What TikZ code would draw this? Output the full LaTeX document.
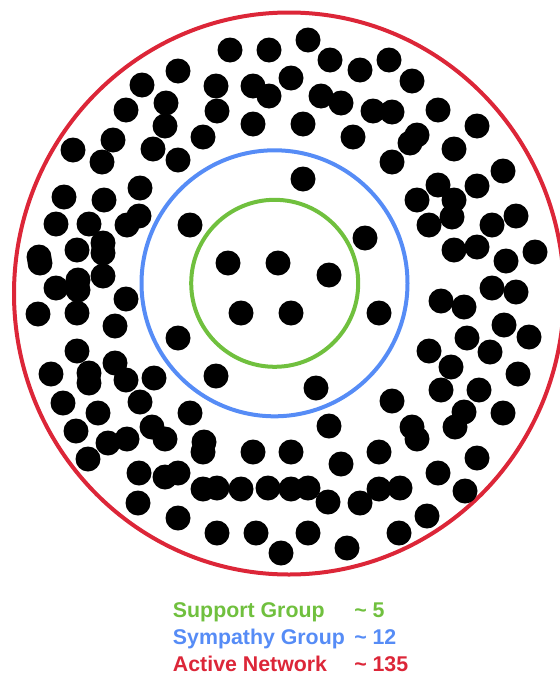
\documentclass[tikz,border=0pt]{standalone}
\usepackage{fontspec}
\setmainfont{Liberation Sans}
\usepackage{xcolor}
\usetikzlibrary{positioning}
\definecolor{SupportGreen}{RGB}{112,192,62}
\definecolor{SympathyBlue}{RGB}{86,140,246}
\definecolor{ActiveRed}{RGB}{220,38,56}

\begin{document}
\begin{tikzpicture}[x=0.75pt, y=-0.75pt,
	dot/.style={fill=black},
	ring/.style={line width=3pt},
	legend/.style={anchor=base west, inner sep=0pt, font=\fontsize{16}{19}\selectfont\bfseries}]
	\useasboundingbox (0,0) rectangle (560,675);
	\clip (0,0) rectangle (560,675);
	% layers
	\draw[ring, ActiveRed] (289,293.5) ellipse [x radius=275, y radius=281];
	\draw[ring, SympathyBlue] (274.5,283.3) circle (133);
	\draw[ring, SupportGreen] (274.7,283.3) circle (83.5);
	% support group
	\foreach \x/\y in {228/263, 278/263, 329/275, 241/313, 291/313}
		\fill[dot] (\x,\y) circle (12.5);
	% sympathy group
	\foreach \x/\y in {303/179, 190/225, 365/238, 379/313, 178/338, 216/376, 316/388}
		\fill[dot] (\x,\y) circle (12.5);
	% active network
	\foreach \x/\y in {178/71, 142/85, 166/103, 126/110, 165/126, 113/140, 73/150, 153/149,
		102/162, 178/160, 140/188, 64/197, 104/200,
		230/50, 269/50, 308/40, 330/60, 360/70, 216/86, 253/86, 269/96, 291/78, 321/96,
		341/103, 373/111, 217/111, 253/124, 303/124, 203/137, 353/137,
		389/60, 412/81, 392/112, 438/110, 477/126, 417/135, 410/143, 454/149, 392/162,
		503/171, 438/185, 477/186, 417/200, 454/200,
		429/225, 452/217, 492/225, 516/216, 454/250, 477/247, 506/261, 535/252, 492/288,
		516/292, 441/301, 464/307, 504/325, 529/337, 467/338, 429/351, 490/352, 451/367,
		518/374, 441/390, 479/390, 392/401,
		464/412, 455/427, 503/413, 412/427, 417/439, 379/452, 477/458, 438/473, 379/489,
		400/488, 465/491, 427/516, 399/533,
		190/413, 329/426, 204/442, 203/452, 253/452, 291/452, 341/464, 203/489, 217/488,
		241/489, 268/488, 291/489, 308/488, 328/502, 360/503, 217/533, 256/533, 308/533,
		281/553, 347/548,
		63/403, 140/402, 98/413, 76/431, 152/427, 165/439, 108/443, 127/439, 88/459,
		139/473, 165/477, 178/473, 138/503, 178/518,
		56/224, 89/224, 127/225, 139/216, 39/257, 40/263, 77/250, 103/243, 103/253,
		103/276, 56/288, 78/280, 78/290, 126/299, 38/314, 77/313, 115/326, 77/351,
		51/374, 115/363, 126/380, 89/373, 89/383, 154/378}
		\fill[dot] (\x,\y) circle (12.5);
	% legend
	\node[legend, SupportGreen] (sup) at (172.7,617) {Support Group};
	\node[legend, SupportGreen] (supn) at (354,617) {\textasciitilde\ 5};
	\node[legend, SympathyBlue] (sym) at (172.7,644) {Sympathy Group};
	\node[legend, SympathyBlue] (symn) at (354,644) {\textasciitilde\ 12};
	\node[legend, ActiveRed] (act) at (172.7,671) {Active Network};
	\node[legend, ActiveRed] (actn) at (354,671) {\textasciitilde\ 135};
\end{tikzpicture}
\end{document}
